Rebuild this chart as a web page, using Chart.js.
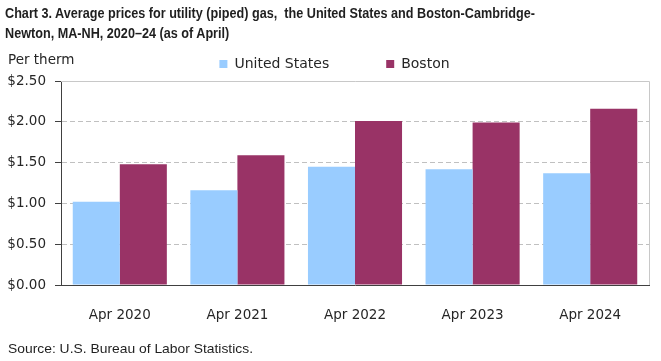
<!DOCTYPE html>
<html><head><meta charset="utf-8">
<script src="https://cdn.jsdelivr.net/npm/chart.js@4.4.1/dist/chart.umd.min.js"></script>
<style>
html,body{margin:0;padding:0;background:#fff;}
#wrap{position:relative;width:661px;height:361px;overflow:hidden;background:#fff;}
#c{position:absolute;left:0;top:0;}
.t{position:absolute;white-space:nowrap;color:#1f1f1f;transform-origin:0 0;}
#title{left:5px;top:3px;font:bold 15px "Liberation Sans",sans-serif;line-height:20px;}
#unit{left:8px;top:51px;font:13.5px "DejaVu Sans",sans-serif;color:#262626;}
#src{left:8px;top:341px;font:13.5px "Liberation Sans",sans-serif;}
</style></head><body>
<div id="wrap">
<canvas id="c" width="661" height="361"></canvas>
<div class="t" id="title"><span id="tl1">Chart 3. Average prices for utility (piped) gas,&nbsp; the United States and Boston-Cambridge-</span><br><span>Newton, MA-NH, 2020–24 (as of April)</span></div>
<div class="t" id="unit">Per therm</div>
<div class="t" id="src">Source: U.S. Bureau of Labor Statistics.</div>
</div>
<script>
const categories = ['Apr 2020', 'Apr 2021', 'Apr 2022', 'Apr 2023', 'Apr 2024'];
const seriesNames = ['United States', 'Boston'];
const usValues = [1.02, 1.16, 1.45, 1.42, 1.37];
const bostonValues = [1.48, 1.59, 2.01, 1.99, 2.16];
const yMin = 0, yMax = 2.5, yStep = 0.5;

// squeeze Calibri-like narrow text to the reference widths
function fitWidth(el, measureEl, target) {
  const w = measureEl.getBoundingClientRect().width;
  if (w > 0) el.style.transform = 'scaleX(' + (target / w) + ')';
}
fitWidth(document.getElementById('title'), document.getElementById('tl1'), 530);
fitWidth(document.getElementById('src'), document.getElementById('src'), 245);

const TXT = '#262626';
const FONT = {family: 'DejaVu Sans', size: 13.5};

const framePlugin = {
  id: 'frame',
  beforeDatasetsDraw(chart) {
    const {ctx, chartArea: a} = chart;
    ctx.save();
    ctx.strokeStyle = '#c8c8c8';
    ctx.lineWidth = 1;
    ctx.beginPath();
    ctx.moveTo(a.left, Math.round(a.top) + 0.5);
    ctx.lineTo(Math.round(a.right) + 0.5, Math.round(a.top) + 0.5);
    ctx.lineTo(Math.round(a.right) + 0.5, a.bottom);
    ctx.stroke();
    ctx.restore();
  },
  afterLayout(chart) {
    const lg = chart.legend;
    if (lg) { lg.left += 10; lg.right += 10; }
  }
};

new Chart(document.getElementById('c'), {
  type: 'bar',
  data: {
    labels: categories,
    datasets: [
      {label: seriesNames[0], data: usValues, backgroundColor: '#99ccff', borderWidth: 0},
      {label: seriesNames[1], data: bostonValues, backgroundColor: '#993366', borderWidth: 0}
    ]
  },
  options: {
    responsive: false,
    devicePixelRatio: 1,
    animation: false,
    layout: {padding: {left: 0, right: 12, top: 0, bottom: 36}},
    datasets: {bar: {categoryPercentage: 0.8, barPercentage: 1.0}},
    plugins: {
      title: {display: false},
      tooltip: {enabled: false},
      legend: {
        display: true,
        position: 'top',
        labels: {boxWidth: 8, boxHeight: 8, padding: 57, font: {family: 'DejaVu Sans', size: 14}, color: TXT}
      }
    },
    scales: {
      x: {
        grid: {display: false},
        border: {display: true, color: '#404040', width: 1},
        ticks: {font: FONT, color: TXT, padding: 14, maxRotation: 0},
        afterFit(s) { s.height = 40; }
      },
      y: {
        min: yMin, max: yMax,
        ticks: {stepSize: yStep, font: FONT, color: TXT, padding: 9,
          callback: v => '$' + Number(v).toFixed(2)},
        grid: {
          color: c => (c.tick && (c.tick.value === yMin || c.tick.value === yMax)) ? 'rgba(0,0,0,0)' : '#c0c0c0',
          tickColor: '#404040', tickLength: 6, tickBorderDash: [], lineWidth: 1
        },
        border: {display: true, color: '#404040', width: 1, dash: [5, 3]},
        afterFit(s) { s.width = 61; }
      }
    }
  },
  plugins: [framePlugin]
});
</script>
</body></html>
